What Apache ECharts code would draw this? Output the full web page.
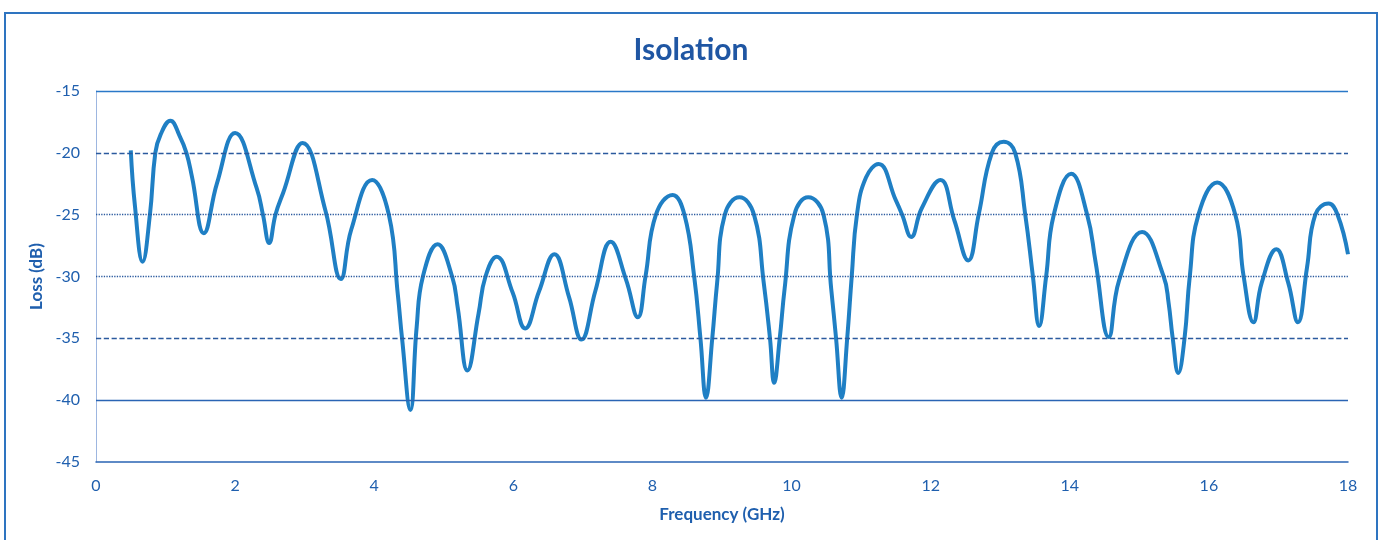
<!DOCTYPE html>
<html>
<head>
<meta charset="utf-8">
<script src="https://cdn.jsdelivr.net/npm/echarts@6/dist/echarts.min.js"></script>
<style>
html,body{margin:0;padding:0;background:#fff;}
#chart{width:1382px;height:540px;}
</style>
</head>
<body>
<div id="chart"></div>
<script>
var freq = [0.5,0.56,0.67,0.775,0.853,0.93,1.07,1.20,1.30,1.38,1.55,1.74,2.0,2.31,2.40,2.49,2.58,2.69,2.97,3.30,3.52,3.67,3.97,4.21,4.34,4.40,4.52,4.61,4.70,4.91,5.12,5.20,5.34,5.50,5.60,5.76,5.99,6.17,6.37,6.59,6.80,6.98,7.18,7.40,7.62,7.79,7.90,8.05,8.29,8.46,8.60,8.69,8.77,8.86,8.93,9.04,9.25,9.46,9.60,9.69,9.75,9.83,9.90,10.04,10.24,10.46,10.57,10.64,10.72,10.80,10.865,10.94,11.07,11.25,11.50,11.59,11.72,11.87,12.14,12.34,12.54,12.69,12.88,13.05,13.215,13.36,13.47,13.56,13.66,13.77,14.02,14.25,14.37,14.56,14.71,15.04,15.35,15.42,15.48,15.56,15.65,15.725,15.85,16.12,16.38,16.50,16.64,16.76,16.97,17.14,17.28,17.41,17.53,17.72,17.85,18.0];
var loss = [-19.8,-24.3,-28.8,-25,-20,-18.5,-17.4,-18.6,-20,-21.95,-26.5,-22.45,-18.4,-22.85,-25,-27.3,-25,-23.25,-19.2,-24.7,-30.2,-26.2,-22.2,-25,-31.5,-35,-40.8,-34.1,-30,-27.4,-30,-32.5,-37.6,-33,-30,-28.4,-31.3,-34.2,-31.2,-28.2,-31.65,-35.1,-31.15,-27.2,-30.25,-33.3,-30,-25,-23.4,-25,-30,-35,-39.8,-35,-30.5,-25,-23.6,-25,-30.5,-35,-38.6,-35,-31,-25,-23.6,-25,-31,-35,-39.8,-35,-30,-25,-22,-20.9,-23.85,-25,-26.8,-24.5,-22.2,-25.45,-28.7,-25,-20,-19.1,-20,-25,-30,-34.0,-30,-25,-21.7,-25,-28.8,-34.9,-30.3,-26.4,-30,-32.1,-35,-37.8,-35,-30,-25,-22.4,-25,-30,-33.7,-30.5,-27.8,-30.5,-33.7,-29.3,-25,-24.1,-25,-28.2];
var gridLevels = [-15,-20,-25,-30,-35,-40];
var gridStyles = ['solid','dashed','dotted','dotted','dashed','solid'];
var gridColors = ['#2a78c8','#2b5a9e','#2b5a9e','#2b5a9e','#2b5a9e','#2a64b4'];

var points = freq.map(function(f,i){return [f, loss[i]];});
var txt = '#1f5fae';
var chart = echarts.init(document.getElementById('chart'), null, {renderer:'canvas'});
chart.setOption({
  animation:false,
  backgroundColor:'#fff',
  title:{text:'Isolation', left:'center', top:30, textStyle:{fontFamily:'Lato', fontWeight:'bold', fontSize:30, color:'#1f56a3'}},
  graphic:[{type:'rect', shape:{x:5,y:13,width:1372,height:540}, style:{fill:'none', stroke:'#2e74c0', lineWidth:2}}],
  grid:{left:96, right:34, top:91, bottom:78},
  xAxis:{type:'value', min:0, max:18, interval:2,
    name:'Frequency (GHz)', nameLocation:'middle', nameGap:44,
    nameTextStyle:{fontFamily:'Lato', fontWeight:'bold', fontSize:17, color:txt},
    axisLine:{show:true, lineStyle:{color:'#2a64b4', width:1.5}},
    axisTick:{show:false},
    axisLabel:{fontFamily:'Lato', fontSize:16, color:txt, margin:16},
    splitLine:{show:false}},
  yAxis:{type:'value', min:-45, max:-15, interval:5,
    name:'Loss (dB)', nameLocation:'middle', nameGap:44, nameRotate:90,
    nameTextStyle:{fontFamily:'Lato', fontWeight:'bold', fontSize:17, color:txt},
    axisLine:{show:true, onZero:false, lineStyle:{color:'#9db6e0', width:1}},
    axisTick:{show:false},
    axisLabel:{fontFamily:'Lato', fontSize:16, color:txt, margin:16},
    splitLine:{show:false}},
  series:[{
    type:'line', data:points, smooth:0.45, showSymbol:false, symbol:'none',
    lineStyle:{color:'#1f7fc4', width:4},
    z:3,
    markLine:{silent:true, symbol:'none', label:{show:false},
      data: gridLevels.map(function(v,i){return {yAxis:v, lineStyle:{type:gridStyles[i], color:gridColors[i], width:1.3}};})}
  }]
});
</script>
</body>
</html>
